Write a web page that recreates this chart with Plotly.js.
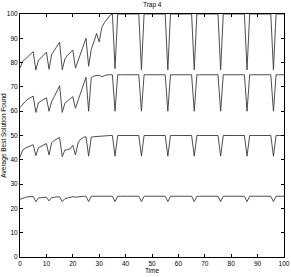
<!DOCTYPE html>
<html>
<head>
<meta charset="utf-8">
<script src="https://cdn.plot.ly/plotly-3.0.1.min.js"></script>
<style>html,body{margin:0;padding:0;background:#fff;}#chart{width:291px;height:277px;}</style>
</head>
<body>
<div id="chart"></div>
<script>
var time = [0,1,2,3,4,5,6,7,8,9,10,11,12,13,14,15,16,17,18,19,20,21,22,23,24,25,26,27,28,29,30,31,32,33,34,35,36,37,38,39,40,41,42,43,44,45,46,47,48,49,50,51,52,53,54,55,56,57,58,59,60,61,62,63,64,65,66,67,68,69,70,71,72,73,74,75,76,77,78,79,80,81,82,83,84,85,86,87,88,89,90,91,92,93,94,95,96,97,98,99,100];

var trap100 = [77.8,80.4,81.5,82.5,83.5,84.5,77,81,82,83.2,
  84.3,77.3,83.4,85,86.7,88.4,77,81.5,83,84.2,
  85.2,77.7,81,84,87,90,78.5,85.5,88.5,92,
  88.5,94.5,96.5,98,99.3,100,77.5,100,100,100,
  100,100,100,100,100,100,77,100,100,100,
  100,100,100,100,100,100,77,100,100,100,
  100,100,100,100,100,100,77,100,100,100,
  100,100,100,100,100,100,77,100,100,100,
  100,100,100,100,100,100,77,100,100,100,
  100,100,100,100,100,100,77,100,100,100,100];

var trap75 = [61.5,63,64,65,65.5,66.2,59.5,63.5,64.2,64.8,
  65.5,60,64,66,68.2,70.5,59.5,63.3,64.2,65,
  66,61.2,64.5,67.5,70.8,74,60,73.8,74.5,74.6,
  74.8,74.2,74.7,75,75,75,60,75,75,75,
  75,75,75,75,75,75,60,75,75,75,
  75,75,75,75,75,75,60,75,75,75,
  75,75,75,75,75,75,60,75,75,75,
  75,75,75,75,75,75,60,75,75,75,
  75,75,75,75,75,75,60,75,75,75,
  75,75,75,75,75,75,60,75,75,75,75];

var trap50 = [41,44,44.8,45.3,45.8,46.2,41.7,45,45.5,46,
  46.7,42,47,48,48.7,49.2,41.3,44,44.2,44.5,
  46,42,47,48.5,49.2,49.5,41.5,49.3,49.5,49.6,
  49.8,50,50,50,50,50,41.5,50,50,50,
  50,50,50,50,50,50,41.5,50,50,50,
  50,50,50,50,50,50,41.5,50,50,50,
  50,50,50,50,50,50,41.5,50,50,50,
  50,50,50,50,50,50,41.5,50,50,50,
  50,50,50,50,50,50,41.5,50,50,50,
  50,50,50,50,50,50,41.5,50,50,50,50];

var trap25 = [23.7,24.2,24.5,24.8,25,24.9,22.7,24.3,24.4,24.5,
  24.6,23.1,24.5,24.6,24.7,24.8,22.8,24,24.3,24.6,
  24.8,24.6,24.8,24.9,25,25,22.8,25,25,25,
  25,25,25,25,25,25,22.8,25,25,25,
  25,25,25,25,25,25,22.8,25,25,25,
  25,25,25,25,25,25,22.8,25,25,25,
  25,25,25,25,25,25,22.8,25,25,25,
  25,25,25,25,25,25,22.8,25,25,25,
  25,25,25,25,25,25,22.8,25,25,25,
  25,25,25,25,25,25,22.8,25,25,25,25];

var seriesList = [trap100, trap75, trap50, trap25];
var traces = seriesList.map(function(s){
  return {x: time, y: s, type: 'scatter', mode: 'lines',
          line: {color: '#3a3a3a', width: 0.9}, hoverinfo: 'skip'};
});

var fontFam = '"Liberation Sans", Arial, sans-serif';
var fs = 6.5;
var layout = {
  width: 291, height: 277,
  margin: {l: 20, r: 7, t: 14, b: 19.5, pad: 0},
  paper_bgcolor: '#fff', plot_bgcolor: '#fff',
  showlegend: false,
  font: {family: fontFam, size: fs, color: '#000'},
  title: {text: 'Trap 4', x: 0.523, xanchor: 'center', y: 0.982, yanchor: 'middle',
          font: {family: fontFam, size: fs, color: '#000'}},
  xaxis: {range: [0, 100], tick0: 0, dtick: 10, ticks: 'inside', ticklen: 3,
          tickcolor: '#000', showline: true, linecolor: '#000', linewidth: 1,
          mirror: 'ticks', showgrid: false, zeroline: false,
          tickfont: {family: fontFam, size: fs, color: '#000'},
          title: {text: 'Time', standoff: 2, font: {family: fontFam, size: fs, color: '#000'}}},
  yaxis: {range: [0, 100], tick0: 0, dtick: 10, ticks: 'inside', ticklen: 3,
          tickcolor: '#000', showline: true, linecolor: '#000', linewidth: 1,
          mirror: 'ticks', showgrid: false, zeroline: false,
          tickfont: {family: fontFam, size: fs, color: '#000'},
          title: {text: 'Average Best Solution Found', standoff: 3, font: {family: fontFam, size: fs, color: '#000'}}}
};

Plotly.newPlot('chart', traces, layout, {staticPlot: true, displayModeBar: false});
</script>
</body>
</html>
